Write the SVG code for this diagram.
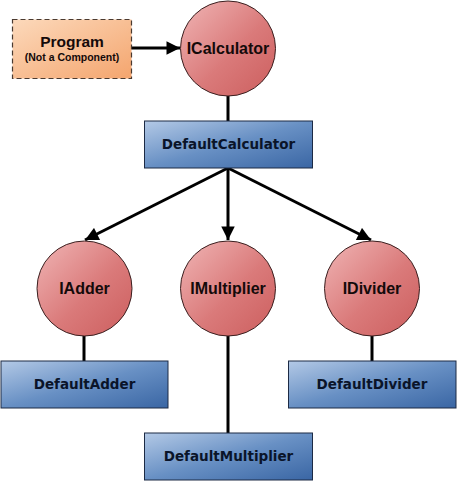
<svg xmlns="http://www.w3.org/2000/svg" width="457" height="481" viewBox="0 0 457 481">
<defs>
<linearGradient id="gCircle" x1="0" y1="0" x2="1" y2="1">
<stop offset="0" stop-color="#f0b5b5"/>
<stop offset="0.55" stop-color="#da7a7a"/>
<stop offset="1" stop-color="#cc5e5e"/>
</linearGradient>
<linearGradient id="gBox" x1="0" y1="0" x2="1" y2="1">
<stop offset="0" stop-color="#b3c9e6"/>
<stop offset="0.5" stop-color="#6890c4"/>
<stop offset="1" stop-color="#3a66a4"/>
</linearGradient>
<linearGradient id="gProg" x1="0" y1="0" x2="1" y2="1">
<stop offset="0" stop-color="#fcd9bb"/>
<stop offset="1" stop-color="#f4a56e"/>
</linearGradient>
<marker id="arrow" viewBox="0 0 10 10" refX="10" refY="5" markerWidth="5" markerHeight="4.5" orient="auto" markerUnits="strokeWidth">
<path d="M0,0 L10,5 L0,10 Z" fill="#000"/>
</marker>
</defs>
<style>
.iface circle{fill:url(#gCircle);stroke:#3a2020;stroke-width:1}
.comp rect{fill:url(#gBox);stroke:#1c2a44;stroke-width:1}
.itext{font-family:"Liberation Sans",Arial,sans-serif;font-weight:bold;font-size:16px;fill:#140a0a;text-anchor:middle}
.ctext{font-family:"DejaVu Sans",Verdana,sans-serif;font-weight:bold;font-size:13.5px;fill:#0a1429;text-anchor:middle}
.conn line{stroke:#000;stroke-width:3}
.conn line.arr{marker-end:url(#arrow)}
</style>
<g id="connectors" class="conn">
<line class="arr" x1="132" y1="48" x2="180" y2="48"/>
<line x1="228" y1="96" x2="228" y2="121"/>
<line class="arr" x1="228" y1="168" x2="85" y2="240"/>
<line class="arr" x1="228" y1="168" x2="228" y2="240"/>
<line class="arr" x1="228" y1="168" x2="371" y2="240"/>
<line x1="84" y1="336" x2="84" y2="361"/>
<line x1="228" y1="336" x2="228" y2="433"/>
<line x1="372" y1="336" x2="372" y2="361"/>
</g>
<g id="program">
<rect x="12.5" y="19.5" width="119" height="59" fill="url(#gProg)" stroke="#4a3a30" stroke-width="1.2" stroke-dasharray="5,3"/>
<text x="72" y="47" style="font-family:'Liberation Sans',Arial,sans-serif;font-weight:bold;font-size:15.5px;fill:#140a0a" text-anchor="middle">Program</text>
<text x="72" y="61" style="font-family:'Liberation Sans',Arial,sans-serif;font-weight:bold;font-size:10.5px;fill:#140a0a" text-anchor="middle">(Not a Component)</text>
</g>
<g id="ICalculator" class="iface">
<circle cx="228" cy="48.5" r="47.5"/>
<text class="itext" x="228" y="54">ICalculator</text>
</g>
<g id="DefaultCalculator" class="comp">
<rect x="144.5" y="121" width="168" height="47"/>
<text class="ctext" x="228.5" y="149">DefaultCalculator</text>
</g>
<g id="IAdder" class="iface">
<circle cx="84.5" cy="288.5" r="47.5"/>
<text class="itext" x="84.5" y="294">IAdder</text>
</g>
<g id="IMultiplier" class="iface">
<circle cx="228" cy="288.5" r="47.5"/>
<text class="itext" x="228" y="294">IMultiplier</text>
</g>
<g id="IDivider" class="iface">
<circle cx="372" cy="288.5" r="47.5"/>
<text class="itext" x="372" y="294">IDivider</text>
</g>
<g id="DefaultAdder" class="comp">
<rect x="1" y="361" width="167" height="47"/>
<text class="ctext" x="84.5" y="389">DefaultAdder</text>
</g>
<g id="DefaultDivider" class="comp">
<rect x="288.5" y="361" width="167.5" height="47"/>
<text class="ctext" x="372" y="389">DefaultDivider</text>
</g>
<g id="DefaultMultiplier" class="comp">
<rect x="144.5" y="433" width="168" height="47"/>
<text class="ctext" x="228.5" y="461">DefaultMultiplier</text>
</g>
</svg>
